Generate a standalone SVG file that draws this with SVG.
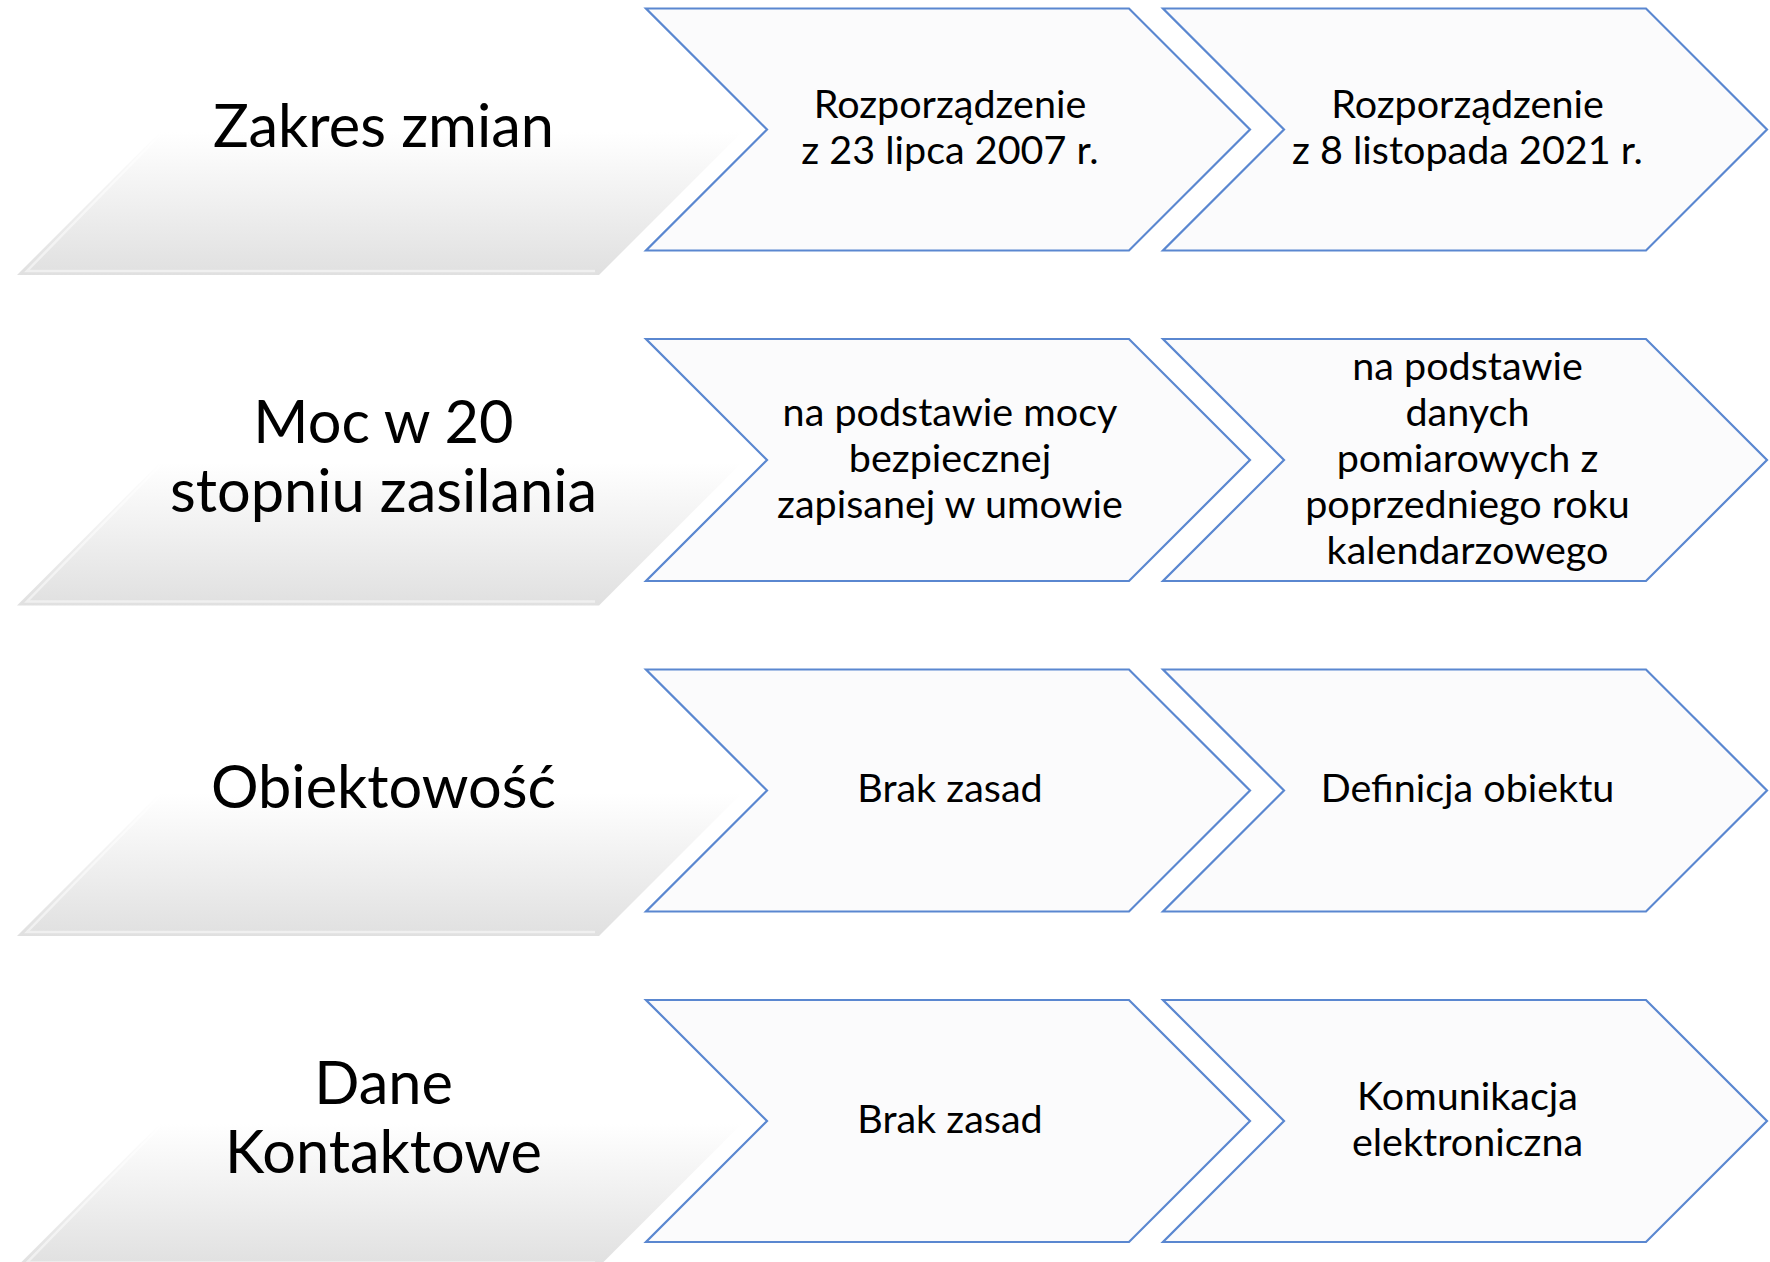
<svg xmlns="http://www.w3.org/2000/svg" width="1770" height="1262" viewBox="0 0 1770 1262">
<defs>
<linearGradient id="grayFade" x1="0" y1="0" x2="0" y2="1">
<stop offset="0" stop-color="#ffffff"/>
<stop offset="0.44" stop-color="#ffffff"/>
<stop offset="0.62" stop-color="#f5f5f5"/>
<stop offset="1" stop-color="#e0e0e0"/>
</linearGradient>
</defs>
<style>
.band{fill:url(#grayFade);stroke:none}
.bevel{fill:none;stroke:#ffffff;stroke-opacity:0.5;stroke-width:2.5}
.chev{fill:#fbfbfc;stroke:#5a87d0;stroke-width:2.2;stroke-linejoin:miter}
.lbl{font-family:Lato,"Liberation Sans",sans-serif;font-size:59.5px;text-anchor:middle;fill:#000000}
.txt{font-family:Lato,"Liberation Sans",sans-serif;font-size:39.5px;text-anchor:middle;fill:#000000}
</style>
<rect x="0" y="0" width="1770" height="1262" fill="#ffffff"/>

<g id="row1-label">
<polygon class="band" points="17,275 599,275 854,20 272,20"/>
<polyline class="bevel" points="160,135 27,271 595,271"/>
<text class="lbl" x="383.5" y="147">Zakres zmian</text>
</g>
<g id="row1-old">
<polygon class="chev" points="646,8.5 1129,8.5 1250,129.5 1129,250.5 646,250.5 767,129.5"/>
<text class="txt" x="950" y="118">Rozporządzenie</text>
<text class="txt" x="950" y="164">z 23 lipca 2007 r.</text>
</g>
<g id="row1-new">
<polygon class="chev" points="1163,8.5 1646,8.5 1767,129.5 1646,250.5 1163,250.5 1284,129.5"/>
<text class="txt" x="1467.5" y="118">Rozporządzenie</text>
<text class="txt" x="1467.5" y="164">z 8 listopada 2021 r.</text>
</g>

<g id="row2-label">
<polygon class="band" points="17,605.5 599,605.5 854,350.5 272,350.5"/>
<polyline class="bevel" points="160,465.5 27,601.5 595,601.5"/>
<text class="lbl" x="383.5" y="443">Moc w 20</text>
<text class="lbl" x="383.5" y="512">stopniu zasilania</text>
</g>
<g id="row2-old">
<polygon class="chev" points="646,339 1129,339 1250,460 1129,581 646,581 767,460"/>
<text class="txt" x="950" y="425.5">na podstawie mocy</text>
<text class="txt" x="950" y="471.5">bezpiecznej</text>
<text class="txt" x="950" y="517.5">zapisanej w umowie</text>
</g>
<g id="row2-new">
<polygon class="chev" points="1163,339 1646,339 1767,460 1646,581 1163,581 1284,460"/>
<text class="txt" x="1467.5" y="379.5">na podstawie</text>
<text class="txt" x="1467.5" y="425.5">danych</text>
<text class="txt" x="1467.5" y="471.5">pomiarowych z</text>
<text class="txt" x="1467.5" y="517.5">poprzedniego roku</text>
<text class="txt" x="1467.5" y="563.5">kalendarzowego</text>
</g>

<g id="row3-label">
<polygon class="band" points="17,936 599,936 854,681 272,681"/>
<polyline class="bevel" points="160,796 27,932 595,932"/>
<text class="lbl" x="383.5" y="808">Obiektowość</text>
</g>
<g id="row3-old">
<polygon class="chev" points="646,669.5 1129,669.5 1250,790.5 1129,911.5 646,911.5 767,790.5"/>
<text class="txt" x="950" y="802">Brak zasad</text>
</g>
<g id="row3-new">
<polygon class="chev" points="1163,669.5 1646,669.5 1767,790.5 1646,911.5 1163,911.5 1284,790.5"/>
<text class="txt" x="1467.5" y="802">Definicja obiektu</text>
</g>

<g id="row4-label">
<polygon class="band" points="17,1266.5 599,1266.5 854,1011.5 272,1011.5"/>
<polyline class="bevel" points="160,1126.5 27,1262.5 595,1262.5"/>
<text class="lbl" x="383.5" y="1104">Dane</text>
<text class="lbl" x="383.5" y="1173">Kontaktowe</text>
</g>
<g id="row4-old">
<polygon class="chev" points="646,1000 1129,1000 1250,1121 1129,1242 646,1242 767,1121"/>
<text class="txt" x="950" y="1132.5">Brak zasad</text>
</g>
<g id="row4-new">
<polygon class="chev" points="1163,1000 1646,1000 1767,1121 1646,1242 1163,1242 1284,1121"/>
<text class="txt" x="1467.5" y="1109.5">Komunikacja</text>
<text class="txt" x="1467.5" y="1155.5">elektroniczna</text>
</g>

<g id="connectors"></g>
</svg>
